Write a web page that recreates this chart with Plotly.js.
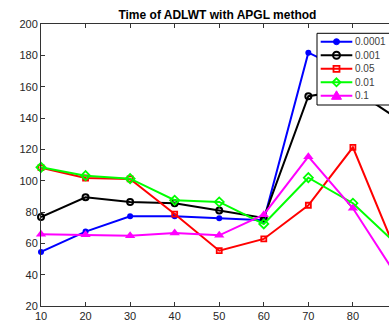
<!DOCTYPE html>
<html>
<head>
<meta charset="utf-8">
<script src="https://cdn.plot.ly/plotly-3.0.1.min.js"></script>
<style>html,body{margin:0;padding:0;background:#fff;}#chart{width:389px;height:325px;}</style>
</head>
<body>
<div id="chart"></div>
<script>
const xValues = [10, 20, 30, 40, 50, 60, 70, 80, 90];
const seriesNames = ['0.0001', '0.001', '0.05', '0.01', '0.1'];
const s00001 = [54.5, 67.5, 77.3, 77.3, 76.0, 74.8, 181.7, 168, 160];
const s0001  = [76.8, 89.4, 86.4, 85.6, 80.9, 76.2, 153.9, 158.4, 139.6];
const s005   = [108.3, 101.7, 101.1, 78.7, 55.3, 62.8, 84.3, 121.3, 52.5];
const s001   = [108.5, 103.2, 101.3, 87.5, 86.4, 72.4, 101.9, 85.6, 58.8];
const s01    = [65.8, 65.5, 64.9, 66.6, 65.1, 78.3, 115.3, 82.4, 38.3];
const xTicks = [10, 20, 30, 40, 50, 60, 70, 80];
const yTicks = [20, 40, 60, 80, 100, 120, 140, 160, 180, 200];

const seriesData = [s00001, s0001, s005, s001, s01];
const colors = ['#0000ff', '#000000', '#ff0000', '#00ff00', '#ff00ff'];
const markers = [
  {symbol: 'circle', size: 6},
  {symbol: 'circle-open', size: 6, line: {width: 2}},
  {symbol: 'square-open', size: 5, line: {width: 1.8}},
  {symbol: 'diamond-open', size: 7, line: {width: 1.8}},
  {symbol: 'triangle-up', size: 9}
];

const traces = seriesData.map((ys, i) => ({
  x: xValues, y: ys, name: seriesNames[i], type: 'scatter', mode: 'lines+markers',
  line: {color: colors[i], width: 2},
  marker: Object.assign({color: colors[i]}, markers[i]),
  cliponaxis: false, showlegend: false
}));

// Compact MATLAB-style legend drawn with shapes & annotations (pixel layout -> paper coords)
const plotL = 41, plotW = 348, plotB = 306, plotH = 282;
const px = v => (v - plotL) / plotW;
const py = v => (plotB - v) / plotH;
const rowY = [41.7, 55.2, 68.8, 82.3, 95.8];
const shapes = [{type: 'rect', xref: 'paper', yref: 'paper', x0: px(317), x1: px(395), y0: py(105), y1: py(33.3),
  fillcolor: '#ffffff', line: {color: '#000000', width: 1}, layer: 'above'}];
const annotations = [];
const mk = (i, yc) => {
  const base = {xref: 'paper', yref: 'paper', xsizemode: 'pixel', ysizemode: 'pixel', xanchor: px(336.5), yanchor: py(yc), layer: 'above'};
  const c = colors[i];
  if (i === 0) return Object.assign(base, {type: 'circle', x0: -3, x1: 3, y0: -3, y1: 3, fillcolor: c, line: {color: c, width: 1}});
  if (i === 1) return Object.assign(base, {type: 'circle', x0: -3.5, x1: 3.5, y0: -3.5, y1: 3.5, fillcolor: 'rgba(0,0,0,0)', line: {color: c, width: 2}});
  if (i === 2) return Object.assign(base, {type: 'rect', x0: -3, x1: 3, y0: -3, y1: 3, fillcolor: 'rgba(0,0,0,0)', line: {color: c, width: 1.8}});
  if (i === 3) return Object.assign(base, {type: 'path', path: 'M0,4L4,0L0,-4L-4,0Z', fillcolor: 'rgba(0,0,0,0)', line: {color: c, width: 1.8}});
  return Object.assign(base, {type: 'path', path: 'M-5,-3.5L5,-3.5L0,5Z', fillcolor: c, line: {color: c, width: 1}});
};
seriesNames.forEach((name, i) => {
  const yc = rowY[i];
  shapes.push({type: 'line', xref: 'paper', yref: 'paper', x0: px(320.7), x1: px(352.3), y0: py(yc), y1: py(yc),
    line: {color: colors[i], width: 2}, layer: 'above'});
  shapes.push(mk(i, yc));
  annotations.push({xref: 'paper', yref: 'paper', x: px(354.3), y: py(yc), xanchor: 'left', yanchor: 'middle',
    text: name, showarrow: false, font: {size: 10, color: '#404040'}, borderpad: 0});
});

const layout = {
  width: 389, height: 325,
  margin: {l: 41, r: 0, t: 24, b: 19, autoexpand: false},
  paper_bgcolor: '#ffffff', plot_bgcolor: '#ffffff',
  font: {family: 'Liberation Sans, Arial, sans-serif', color: '#262626', size: 11},
  title: {text: '<b>Time of ADLWT with APGL method</b>', font: {size: 12, color: '#000000'},
          xref: 'paper', x: 0.507, xanchor: 'center', yref: 'container', y: 0.954, yanchor: 'middle'},
  xaxis: {range: [10, 88.1], tickvals: xTicks, ticktext: xTicks.map(String), ticks: 'inside', ticklen: 4,
          tickcolor: '#333', showline: true, linecolor: '#333', linewidth: 1, mirror: 'ticks',
          showgrid: false, zeroline: false, tickfont: {size: 11, color: '#262626'}},
  yaxis: {range: [20, 200], tickvals: yTicks, ticktext: yTicks.map(String), ticks: 'inside', ticklen: 4,
          tickcolor: '#333', showline: true, linecolor: '#333', linewidth: 1, mirror: false,
          showgrid: false, zeroline: false, tickfont: {size: 11, color: '#262626'}},
  showlegend: false,
  shapes: shapes,
  annotations: annotations
};

Plotly.newPlot('chart', traces, layout, {staticPlot: true, displayModeBar: false});
</script>
</body>
</html>
